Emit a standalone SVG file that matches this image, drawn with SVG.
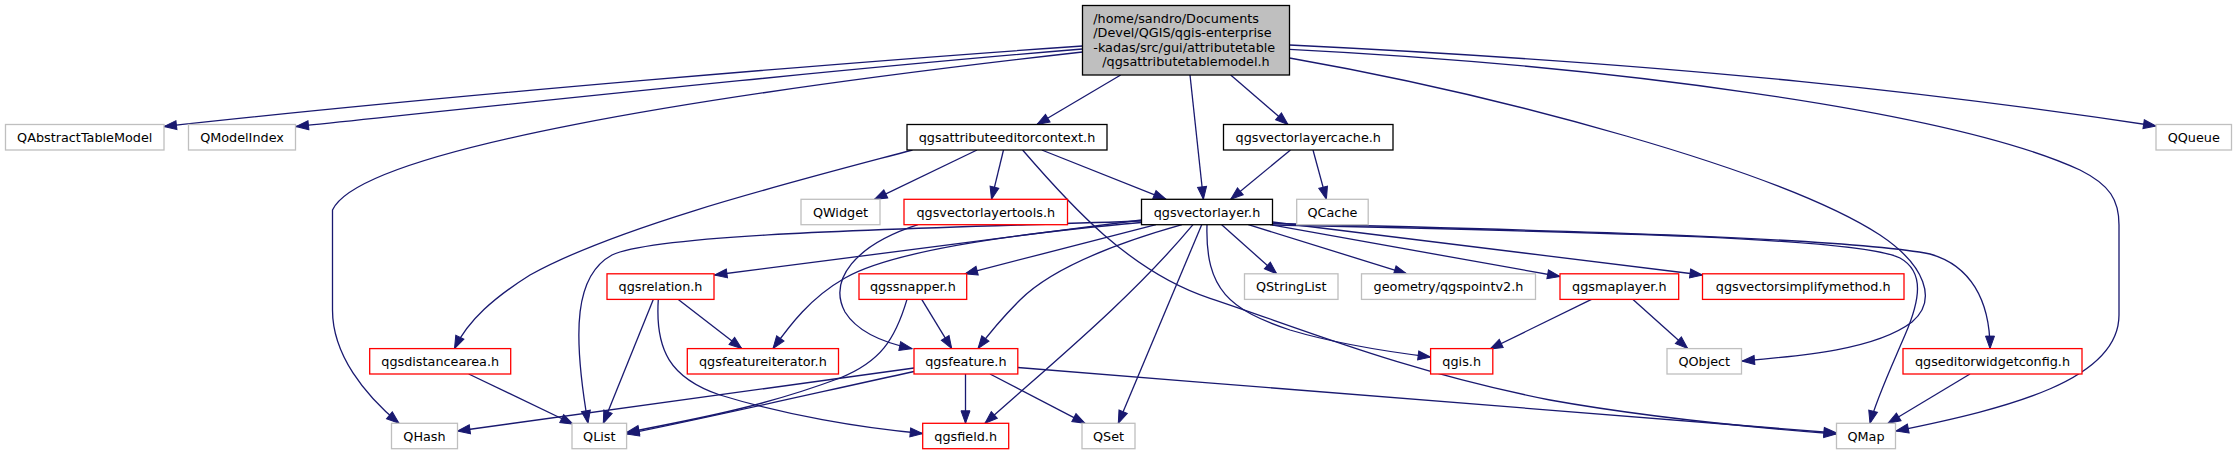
<svg xmlns="http://www.w3.org/2000/svg" width="2237" height="455" viewBox="0 0 2237 455">
<style>
.bg{fill:#ffffff}
.n rect{fill:#ffffff;stroke-width:1.3}
.g rect{stroke:#bfbfbf}
.r rect{stroke:#ff0000}
.k rect{stroke:#000000}
.m rect{fill:#bfbfbf;stroke:#000000;stroke-width:1.3}
text{font-family:"DejaVu Sans","Liberation Sans",sans-serif;font-size:12.8px;fill:#000000;text-anchor:middle}
text.l{text-anchor:start}
#edges path{fill:none;stroke:#191970;stroke-width:1.3;marker-end:url(#arr)}
</style>
<defs>
<marker id="arr" markerUnits="userSpaceOnUse" viewBox="0 0 12.5 9" markerWidth="12.5" markerHeight="9" refX="12.5" refY="4.5" orient="auto" overflow="visible">
<path d="M0,0 L12.5,4.5 L0,9 z" fill="#191970" stroke="#191970" stroke-width="1"/>
</marker>
</defs>
<rect class="bg" x="0" y="0" width="2237" height="455"/>

<g id="edges">
<path id="e1" d="M1082.5,46 C850,62 450,95 164,126.5"/>
<path id="e2" d="M1082.5,49 C850,68 550,100 296,126.5"/>
<path id="e3" d="M1082.5,52 C700,95 360,150 332.5,210 L332.5,310 C332.5,355 365,395 399,423.3"/>
<path id="e4" d="M1120.7,75 L1037,124.5"/>
<path id="e5" d="M1190,75 L1203.4,199.3"/>
<path id="e6" d="M1230.7,75 L1288,124.5"/>
<path id="e7" d="M1289.5,45 C1700,65 1950,95 2156,126"/>
<path id="e8" d="M1289.5,49.3 C1600,65 1950,110 2080,170 C2110,185 2119,200 2119,225 L2119,315 C2119,380 2010,408 1896,431"/>
<path id="e9" d="M1289.5,58 C1500,95 1780,170 1880,235 C1925,265 1938,300 1912,322 C1875,350 1800,356 1742,361"/>
<path id="e10" d="M912.5,150 C800,180 620,225 530,275 C495,297 468,320 454.5,348.6"/>
<path id="e11" d="M977,150 L874.5,199.3"/>
<path id="e12" d="M1003.5,150 L991.5,199.3"/>
<path id="e13" d="M1041.8,150 L1166,199.3"/>
<path id="e14" d="M1022.6,150 C1070,205 1130,272 1210,298.3 C1300,328 1400,370 1550,400 C1650,418 1760,428 1836.5,434"/>
<path id="e15" d="M1290.5,150 L1230.7,199.3"/>
<path id="e16" d="M1313,150 L1326.4,199.3"/>
<path id="e17" d="M918,224.7 C855,245 828,280 845,312 C858,333 885,343 912,348.6"/>
<path id="e18" d="M1141.5,221 C950,228 660,232 612,255 C575,275 572,330 588,423.3"/>
<path id="e19" d="M1141.5,220 L714.5,275"/>
<path id="e20" d="M1141.5,222.5 C1000,235 890,252 845,278 C810,298 790,325 773,348.6"/>
<path id="e21" d="M1156,224.7 L965,273.8"/>
<path id="e22" d="M1182,224.7 C1110,245 1050,270 1020,300 C1000,320 988,335 978,348.6"/>
<path id="e23" d="M1193,224.7 C1130,300 1050,365 985,423.3"/>
<path id="e24" d="M1201.7,224.7 L1118.3,423.3"/>
<path id="e25" d="M1207,224.7 C1205,290 1230,310 1290,330 C1340,345 1390,352 1430.6,357"/>
<path id="e26" d="M1221.7,224.7 L1276.7,273.8"/>
<path id="e27" d="M1248.3,224.7 L1406.7,273.8"/>
<path id="e28" d="M1270,224.7 L1560,276.5"/>
<path id="e29" d="M1272.5,222 L1702.5,275"/>
<path id="e30" d="M1272.5,223.5 C1550,230 1850,238 1930,254 C1970,265 1990,300 1990,348.6"/>
<path id="e31" d="M1272.5,225 C1600,232 1860,238 1900,258 C1925,272 1920,300 1905,335 C1890,370 1876,400 1870,423.3"/>
<path id="e32" d="M653.3,299.4 L603.3,423.3"/>
<path id="e33" d="M678.3,299.4 L741.7,348.6"/>
<path id="e34" d="M658.3,299.4 C655,350 670,378 720,395 C785,415 860,428 922.7,433.5"/>
<path id="e35" d="M468.7,374 L573,424"/>
<path id="e36" d="M921.7,299.4 L951.7,348.6"/>
<path id="e37" d="M907,299.4 C895,340 880,362 840,378 C760,408 690,420 626.6,432.5"/>
<path id="e38" d="M965.5,374 L965.5,423.3"/>
<path id="e39" d="M990,374 L1085,423.3"/>
<path id="e40" d="M1017.8,367.5 C1300,390 1600,415 1836.5,433"/>
<path id="e41" d="M914,368 L457.5,431"/>
<path id="e42" d="M914,371.5 C820,392 720,415 626.6,434"/>
<path id="e43" d="M1591.5,299.4 L1490,349"/>
<path id="e44" d="M1633,299.4 L1687.7,348.6"/>
<path id="e45" d="M1970,374 L1888,423.3"/>
</g>

<g id="n0" class="m">
<rect x="1082.5" y="5.5" width="207" height="69.5"/>
<text class="l" x="1093.3" y="22.6">/home/sandro/Documents</text>
<text class="l" x="1093.3" y="37.1">/Devel/QGIS/qgis-enterprise</text>
<text class="l" x="1093.3" y="51.6">-kadas/src/gui/attributetable</text>
<text x="1186" y="66.1">/qgsattributetablemodel.h</text>
</g>
<g id="n1" class="n g"><rect x="5.5" y="124.5" width="158.5" height="25.5"/><text x="84.75" y="141.8">QAbstractTableModel</text></g>
<g id="n2" class="n g"><rect x="188.5" y="124.5" width="107" height="25.5"/><text x="242" y="141.8">QModelIndex</text></g>
<g id="n4" class="n k"><rect x="907" y="124.5" width="200" height="25.5"/><text x="1007" y="141.8">qgsattributeeditorcontext.h</text></g>
<g id="n6" class="n k"><rect x="1223.5" y="124.5" width="169.5" height="25.5"/><text x="1308.25" y="141.8">qgsvectorlayercache.h</text></g>
<g id="n7" class="n g"><rect x="2156" y="124.5" width="75.5" height="25.5"/><text x="2193.75" y="141.8">QQueue</text></g>

<g id="n11" class="n g"><rect x="801" y="199.3" width="79" height="25.4"/><text x="840.5" y="216.6">QWidget</text></g>
<g id="n12" class="n r"><rect x="904" y="199.3" width="163.5" height="25.4"/><text x="985.75" y="216.6">qgsvectorlayertools.h</text></g>
<g id="n5" class="n k"><rect x="1141.5" y="199.3" width="131" height="25.4"/><text x="1207" y="216.6">qgsvectorlayer.h</text></g>
<g id="n13" class="n g"><rect x="1296.7" y="199.3" width="71.5" height="25.4"/><text x="1332.45" y="216.6">QCache</text></g>

<g id="n14" class="n r"><rect x="607" y="273.8" width="107" height="25.6"/><text x="660.5" y="291.2">qgsrelation.h</text></g>
<g id="n15" class="n r"><rect x="859" y="273.8" width="107.7" height="25.6"/><text x="912.85" y="291.2">qgssnapper.h</text></g>
<g id="n16" class="n g"><rect x="1244.5" y="273.8" width="93.5" height="25.6"/><text x="1291.25" y="291.2">QStringList</text></g>
<g id="n17" class="n g"><rect x="1361.5" y="273.8" width="174" height="25.6"/><text x="1448.5" y="291.2">geometry/qgspointv2.h</text></g>
<g id="n18" class="n r"><rect x="1560" y="273.8" width="118.7" height="25.6"/><text x="1619.35" y="291.2">qgsmaplayer.h</text></g>
<g id="n19" class="n r"><rect x="1702.5" y="273.8" width="201.5" height="25.6"/><text x="1803.25" y="291.2">qgsvectorsimplifymethod.h</text></g>

<g id="n10" class="n r"><rect x="369.7" y="348.6" width="141" height="25.4"/><text x="440.2" y="365.9">qgsdistancearea.h</text></g>
<g id="n20" class="n r"><rect x="687.3" y="348.6" width="151.2" height="25.4"/><text x="762.9" y="365.9">qgsfeatureiterator.h</text></g>
<g id="n21" class="n r"><rect x="914" y="348.6" width="103.8" height="25.4"/><text x="965.9" y="365.9">qgsfeature.h</text></g>
<g id="n22" class="n r"><rect x="1430.6" y="348.6" width="62.2" height="25.4"/><text x="1461.7" y="365.9">qgis.h</text></g>
<g id="n9" class="n g"><rect x="1667" y="348.6" width="74.5" height="25.4"/><text x="1704.25" y="365.9">QObject</text></g>
<g id="n23" class="n r"><rect x="1903" y="348.6" width="179" height="25.4"/><text x="1992.5" y="365.9">qgseditorwidgetconfig.h</text></g>

<g id="n3" class="n g"><rect x="391.5" y="423.3" width="66" height="25.4"/><text x="424.5" y="440.6">QHash</text></g>
<g id="n24" class="n g"><rect x="572" y="423.3" width="54.6" height="25.4"/><text x="599.3" y="440.6">QList</text></g>
<g id="n25" class="n r"><rect x="922.7" y="423.3" width="86" height="25.4"/><text x="965.7" y="440.6">qgsfield.h</text></g>
<g id="n26" class="n g"><rect x="1082" y="423.3" width="53" height="25.4"/><text x="1108.5" y="440.6">QSet</text></g>
<g id="n8" class="n g"><rect x="1836.5" y="423.3" width="59" height="25.4"/><text x="1866" y="440.6">QMap</text></g>
</svg>
